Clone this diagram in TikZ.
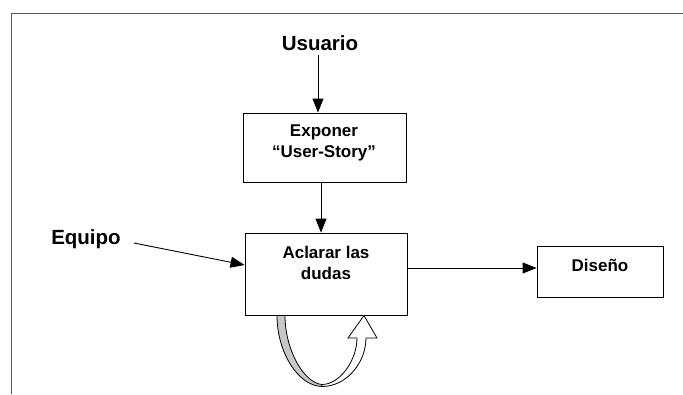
\documentclass[tikz,border=0pt]{standalone}
\usepackage{fontspec}
\setmainfont{Liberation Sans}
\usetikzlibrary{arrows.meta,calc}
\definecolor{loopgrey}{RGB}{200,200,200}
\definecolor{framegrey}{RGB}{90,90,90}
\tikzset{
  box/.style={draw, line width=0.9pt, rectangle, inner sep=0pt},
  boxtext/.style={font=\fontsize{17}{21}\selectfont\bfseries, align=center, inner sep=0pt},
  actor/.style={font=\fontsize{20.5}{24}\selectfont\bfseries, inner sep=0pt},
  arr/.style={line width=0.9pt, -{Triangle[length=14pt,width=11pt]}},
}
\begin{document}
\begin{tikzpicture}[x=1pt,y=-1pt]
\useasboundingbox (0,0) rectangle (683,394);
% open frame: only left and top edges fall inside the page
\draw[framegrey, line width=1pt] (11,394) -- (11,13) -- (683,13);

% boxes
\node[box, minimum width=163pt, minimum height=69pt] (exponer) at (324.5,147.5) {};
\node[boxtext] (exponertxt) at (324,142.5) {Exponer\\“User-Story”};
\node[box, minimum width=162pt, minimum height=82pt] (aclarar) at (326,274) {};
\node[boxtext] (aclarartxt) at (326,262.5) {Aclarar las\\dudas};
\node[box, minimum width=126pt, minimum height=51pt] (diseno) at (600,271.5) {};
\node[boxtext] (disenotxt) at (600,265) {Diseño};

% actors
\node[actor] (usuario) at (320,43) {Usuario};
\node[actor] (equipo) at (86,239) {Equipo};

% connectors
\coordinate (u0) at (318,55);
\draw[arr] (u0) -- (u0 |- exponer.north);
\coordinate (e0) at ([xshift=-3.5pt]exponer.south);
\draw[arr] (e0) -- (e0 |- aclarar.north);
\coordinate (q0) at ([xshift=13pt,yshift=-4pt]equipo.east);
\coordinate (q1) at ([yshift=-265pt+274pt]aclarar.west);
\draw[arr] (q0) -- (q1);
\coordinate (a0) at ([yshift=6pt]aclarar.east);
\draw[arr] (a0) -- (a0 -| diseno.west);

% curved loop arrow under the second box
\fill[loopgrey, draw=black, line width=0.8pt]
  (277,315.5) .. controls (277,352) and (298,386) .. (322,386.5)
  -- (322,384.5) .. controls (304,383) and (285,350) .. (285,315.5) -- cycle;
\filldraw[fill=white, draw=black, line width=0.8pt]
  (322,386.5) .. controls (347,386.5) and (366,362) .. (366,338)
  -- (377,338) -- (364,315.5) -- (348,338) -- (357,338)
  .. controls (357,360) and (340,384.5) .. (322,384.5) -- cycle;
\end{tikzpicture}
\end{document}
